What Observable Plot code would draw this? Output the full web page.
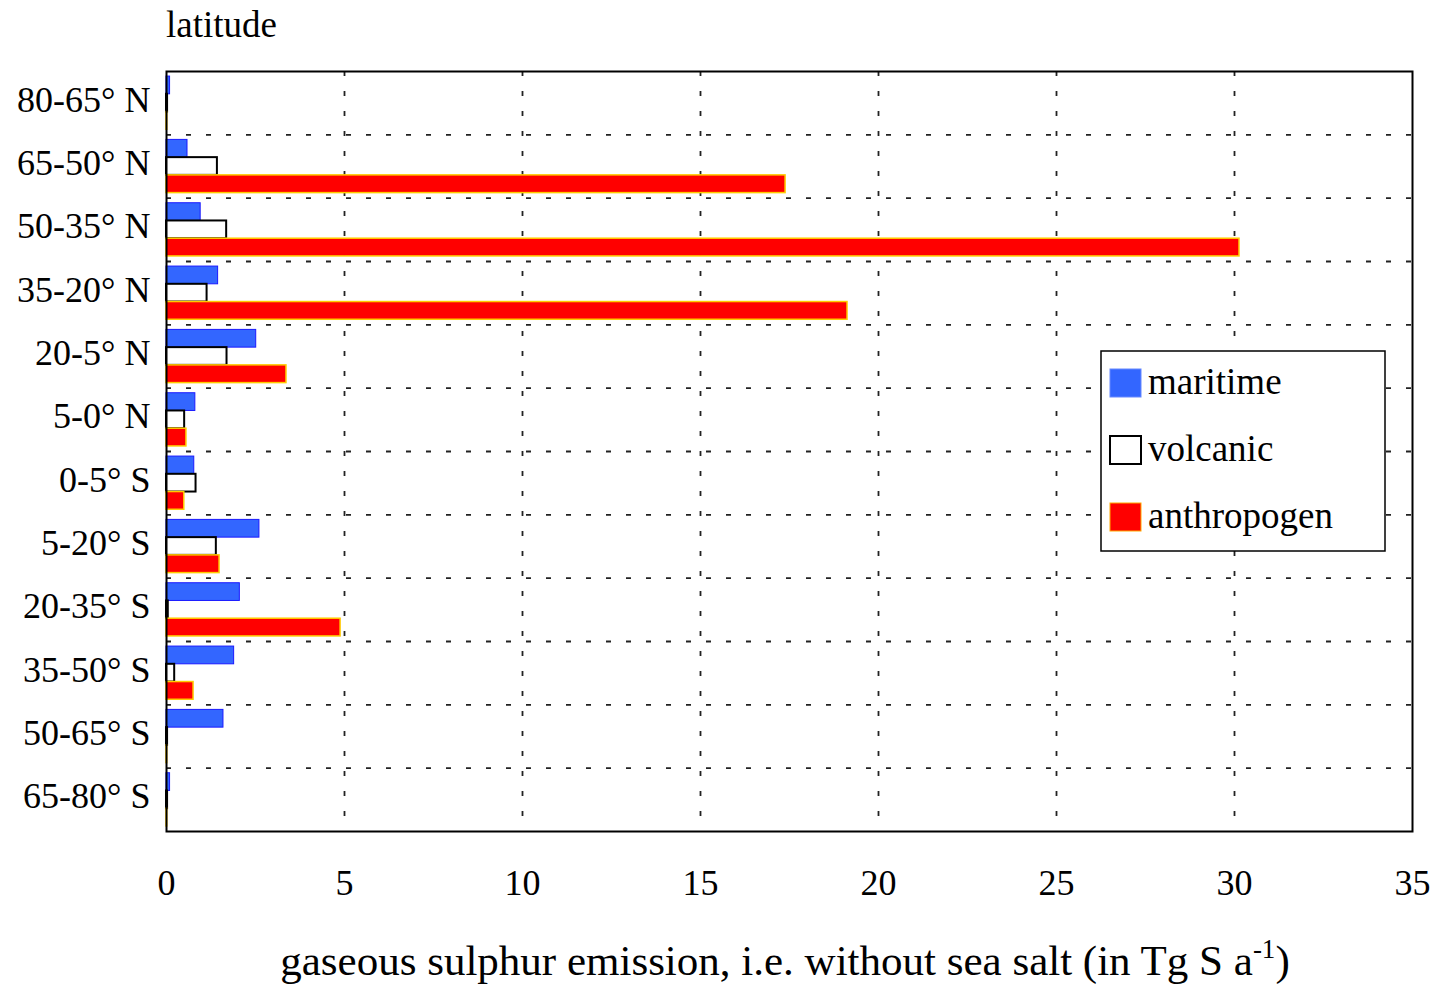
<!DOCTYPE html>
<html><head><meta charset="utf-8">
<script src="https://cdn.jsdelivr.net/npm/d3@7"></script>
<script src="https://cdn.jsdelivr.net/npm/@observablehq/plot@0.6"></script>
<style>body{margin:0;background:#fff}</style>
</head><body><div id="chart"></div>
<script>
const latitudes = ["80-65° N","65-50° N","50-35° N","35-20° N","20-5° N","5-0° N","0-5° S","5-20° S","20-35° S","35-50° S","50-65° S","65-80° S"];
const seriesNames = ["maritime","volcanic","anthropogen"];
const maritime    = [0.10, 0.59, 0.96, 1.45, 2.52, 0.81, 0.78, 2.61, 2.06, 1.90, 1.60, 0.10];
const volcanic    = [0.03, 1.43, 1.69, 1.14, 1.70, 0.51, 0.83, 1.40, 0.05, 0.23, 0.03, 0.03];
const anthropogen = [0.02, 17.39, 30.14, 19.13, 3.37, 0.56, 0.50, 1.49, 4.89, 0.76, 0.02, 0.02];
const xTicks = [0,5,10,15,20,25,30,35];
const xLabel = "gaseous sulphur emission, i.e. without sea salt (in Tg S a";
const yLabel = "latitude";

const seriesValues = [maritime, volcanic, anthropogen];
const table = [];
latitudes.forEach((lat, i) => {
  seriesValues.forEach((arr, k) => table.push({lat, i, k, series: seriesNames[k], value: arr[i]}));
});

const groupTop = 0.08, barBand = 0.28;
const fills   = {maritime: "#3366ff", volcanic: "#ffffff", anthropogen: "#ff0000"};
const strokes = {maritime: "#1a1aff", volcanic: "#000000", anthropogen: "#ffcc00"};
const strokeW = {maritime: 1, volcanic: 2, anthropogen: 1.5};
const font = "'Liberation Serif', 'Times New Roman', serif";

const plot = Plot.plot({
  width: 1437, height: 988,
  marginLeft: 166, marginRight: 25, marginTop: 71, marginBottom: 157,
  style: {fontFamily: font, fontSize: "36px", color: "#000", background: "#fff"},
  x: {domain: [0, 35], ticks: xTicks, tickSize: 0, tickPadding: 38, label: null},
  y: {domain: [latitudes.length, 0], ticks: latitudes.map((_, i) => i + 0.45),
      tickFormat: d => latitudes[Math.floor(d)], tickSize: 0, tickPadding: 16, label: null},
  marks: [
    Plot.ruleX(xTicks.slice(1, -1), {stroke: "#222", strokeWidth: 1.8, strokeDasharray: "5,15"}),
    Plot.ruleY(d3.range(1, latitudes.length), {stroke: "#222", strokeWidth: 1.8, strokeDasharray: "5,15"}),
    ...seriesNames.map(s => Plot.rect(table.filter(d => d.series === s), {
      x1: 0, x2: "value",
      y1: d => d.i + groupTop + barBand * d.k,
      y2: d => d.i + groupTop + barBand * (d.k + 1),
      fill: fills[s], stroke: strokes[s], strokeWidth: strokeW[s]
    })),
    Plot.frame({stroke: "#000", strokeWidth: 2})
  ]
});

const svg = d3.select(plot);
svg.append("text").attr("x", 166).attr("y", 37).attr("text-anchor", "start")
  .style("font-family", font).style("font-size", "37px").attr("fill", "#000").text(yLabel);
const xt = svg.append("text").attr("x", 785).attr("y", 975).attr("text-anchor", "middle")
  .style("font-family", font).style("font-size", "43px").attr("fill", "#000");
xt.append("tspan").text(xLabel);
xt.append("tspan").attr("dy", -17).style("font-size", "27px").text("-1");
xt.append("tspan").attr("dy", 17).text(")");

const lg = svg.append("g");
lg.append("rect").attr("x", 1101).attr("y", 351).attr("width", 284).attr("height", 200)
  .attr("fill", "#fff").attr("stroke", "#000").attr("stroke-width", 1.5);
seriesNames.forEach((s, k) => {
  const base = 394 + 67 * k;
  lg.append("rect").attr("x", 1110).attr("y", base - 25).attr("width", 31).attr("height", 28)
    .attr("fill", fills[s]).attr("stroke", s === "volcanic" ? "#000" : (s === "anthropogen" ? "#ffaa00" : "#6688ff"))
    .attr("stroke-width", s === "volcanic" ? 2 : 1);
  lg.append("text").attr("x", 1148).attr("y", base).attr("text-anchor", "start")
    .style("font-family", font).style("font-size", "37px").attr("fill", "#000").text(s);
});

document.getElementById("chart").appendChild(plot);
</script>
</body></html>
